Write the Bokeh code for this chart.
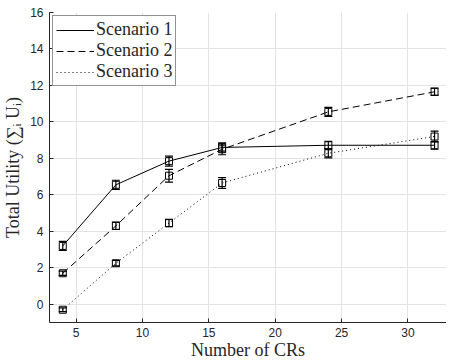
from bokeh.plotting import figure
from bokeh.models import ColumnDataSource, Whisker, TeeHead, Range1d, FixedTicker, Legend, LegendItem
from bokeh.embed import file_html
from bokeh.resources import INLINE

crs = [4, 8, 12, 16, 24, 32]
s1 = [3.2, 6.55, 7.85, 8.6, 8.72, 8.72]
s2 = [1.7, 4.3, 7.05, 8.5, 10.55, 11.65]
s3 = [-0.3, 2.25, 4.45, 6.65, 8.28, 9.2]
e1 = [0.25, 0.25, 0.27, 0.25, 0.22, 0.22]
e2 = [0.12, 0.2, 0.35, 0.3, 0.25, 0.2]
e3 = [0.1, 0.15, 0.2, 0.3, 0.25, 0.3]
names = ["Scenario 1", "Scenario 2", "Scenario 3"]
x_ticks = [5, 10, 15, 20, 25, 30]
y_ticks = [0, 2, 4, 6, 8, 10, 12, 14, 16]

p = figure(width=446, height=362, output_backend="svg", toolbar_location=None,
           x_range=Range1d(3, 32.9), y_range=Range1d(-1, 16),
           min_border_left=44, min_border_right=0, min_border_top=12, min_border_bottom=35)
p.outline_line_color = None
p.background_fill_color = "white"
p.border_fill_color = "white"

for ax in (p.xaxis, p.yaxis):
    ax.axis_line_color = "#262626"
    ax.major_tick_line_color = "#262626"
    ax.major_tick_in = 4
    ax.major_tick_out = 0
    ax.minor_tick_line_color = None
    ax.major_label_text_font = "Liberation Sans"
    ax.major_label_text_font_size = "12px"
    ax.major_label_text_color = "#262626"
    ax.axis_label_text_font = "Liberation Serif"
    ax.axis_label_text_font_size = "18px"
    ax.axis_label_text_font_style = "normal"
    ax.axis_label_text_color = "#262626"
p.xaxis.ticker = FixedTicker(ticks=x_ticks)
p.yaxis.ticker = FixedTicker(ticks=y_ticks)
p.xaxis.axis_label = "Number of CRs"
p.yaxis.axis_label = "Total Utility (∑ᵢ Uᵢ)"
p.xaxis.axis_label_standoff = 0
p.yaxis.axis_label_standoff = 4
p.xaxis.major_label_standoff = 5
p.yaxis.major_label_standoff = 6

p.grid.grid_line_color = "#e3e3e3"
p.grid.grid_line_width = 1

dashes = ["solid", "7 4", "1 3"]
items = []
for ys, es, name, dash in zip([s1, s2, s3], [e1, e2, e3], names, dashes):
    src = ColumnDataSource(dict(x=crs, y=ys,
                                lo=[a - b for a, b in zip(ys, es)],
                                hi=[a + b for a, b in zip(ys, es)]))
    r = p.line("x", "y", source=src, line_color="black", line_width=1, line_dash=dash)
    w = Whisker(source=src, base="x", upper="hi", lower="lo", line_color="black", line_width=1.2,
                upper_head=TeeHead(size=8, line_color="black", line_width=1.2),
                lower_head=TeeHead(size=8, line_color="black", line_width=1.2))
    p.add_layout(w)
    p.scatter("x", "y", source=src, marker="square", size=7, fill_color=None,
              line_color="black", line_width=1)
    items.append(LegendItem(label=name, renderers=[r]))

legend = Legend(items=items, location="top_left")
legend.margin = 3
legend.padding = 3
legend.spacing = 0
legend.glyph_width = 38
legend.glyph_height = 20
legend.label_height = 20
legend.label_standoff = 2
legend.label_text_font = "Liberation Serif"
legend.label_text_font_size = "18px"
legend.label_text_color = "#262626"
legend.border_line_color = "#262626"
legend.border_line_width = 1
legend.background_fill_alpha = 1
p.add_layout(legend, "center")

open("out.html", "w").write(file_html(p, INLINE))
